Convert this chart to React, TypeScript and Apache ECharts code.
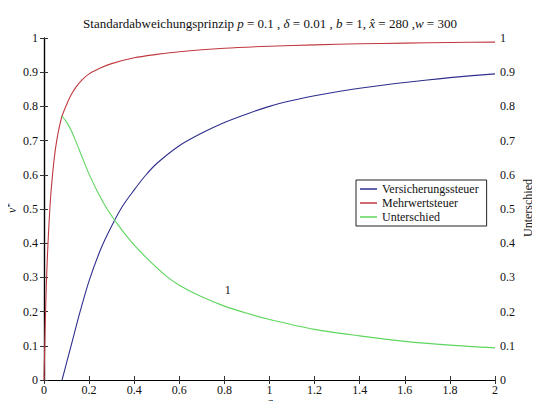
import React, { useEffect, useRef } from "react";
import * as echarts from "echarts";

const blueA = [0.08, 0.1, 0.12, 0.16, 0.2, 0.25, 0.3, 0.35, 0.4, 0.45, 0.5, 0.6, 0.7, 0.8, 0.9, 1.0, 1.1, 1.2, 1.3, 1.4, 1.5, 1.6, 1.7, 1.8, 1.9, 2.0];
const blueV = [0, 0.05, 0.1, 0.2, 0.29, 0.38, 0.45, 0.51, 0.556, 0.598, 0.633, 0.685, 0.722, 0.753, 0.778, 0.8, 0.817, 0.831, 0.843, 0.853, 0.862, 0.87, 0.877, 0.884, 0.89, 0.895];

const redA = [0, 0.005, 0.01, 0.015, 0.02, 0.025, 0.03, 0.04, 0.05, 0.06, 0.07, 0.08, 0.1, 0.12, 0.14, 0.17, 0.2, 0.25, 0.3, 0.4, 0.5, 0.6, 0.8, 1.0, 1.2, 1.4, 1.6, 1.8, 2.0];
const redV = [0, 0.15, 0.27, 0.36, 0.43, 0.49, 0.54, 0.615, 0.672, 0.714, 0.746, 0.772, 0.805, 0.833, 0.855, 0.878, 0.895, 0.912, 0.925, 0.942, 0.952, 0.96, 0.97, 0.976, 0.98, 0.983, 0.985, 0.987, 0.988];

const greenA = [0.08, 0.1, 0.12, 0.14, 0.17, 0.2, 0.24, 0.28, 0.33, 0.38, 0.45, 0.54, 0.6, 0.69, 0.8, 0.9, 1.0, 1.2, 1.4, 1.6, 1.8, 2.0];
const greenV = [0.772, 0.754, 0.73, 0.7, 0.65, 0.602, 0.547, 0.5, 0.452, 0.41, 0.36, 0.305, 0.277, 0.246, 0.216, 0.195, 0.177, 0.148, 0.129, 0.113, 0.102, 0.094];

const seriesNames = ["Versicherungssteuer", "Mehrwertsteuer", "Unterschied"];
const annotation = { a: 0.815, v: 0.264, text: "1" };
const xName = "a";
const yName = "v";
const y2Name = "Unterschied";

const FONT = "Liberation Serif";

const zip = (xs: number[], ys: number[]) => xs.map((x, i) => [x, ys[i]]);

export default function App() {
  const ref = useRef<HTMLDivElement>(null);
  useEffect(() => {
    const chart = echarts.init(ref.current!, null, { renderer: "svg" });
    const axisCommon = {
      axisLine: { show: true, lineStyle: { color: "#000", width: 1.2 } },
      axisTick: { show: true, inside: true, length: 4, lineStyle: { color: "#333" } },
      splitLine: { show: false },
      axisLabel: { color: "#111", fontFamily: FONT, fontSize: 12 },
    };
    const lineCommon = { type: "line", showSymbol: false, smooth: 0.3 };
    const nameStyle = { fill: "#111", fontFamily: FONT, fontSize: 12, align: "center", verticalAlign: "middle" };
    chart.setOption({
      animation: false,
      backgroundColor: "#fff",
      title: {
        text: "Standardabweichungsprinzip {i|p} = 0.1 , {i|δ} = 0.01 , {i|b} = 1, {i|x̂} = 280 ,{i|w} = 300",
        left: "center",
        top: 12,
        textStyle: {
          fontFamily: FONT,
          fontSize: 13,
          fontWeight: "normal",
          color: "#111",
          rich: { i: { fontStyle: "italic", fontFamily: FONT, fontSize: 13, color: "#111" } },
        },
      },
      grid: { left: 44, right: 45, top: 38, bottom: 29, outerBoundsMode: "none" },
      legend: {
        orient: "vertical",
        left: 356,
        top: 180,
        data: seriesNames,
        icon: "rect",
        itemWidth: 17,
        itemHeight: 1.5,
        itemGap: 2,
        padding: [3, 8, 3, 4],
        borderColor: "#222",
        borderWidth: 1,
        borderRadius: 0,
        backgroundColor: "#fff",
        textStyle: { fontFamily: FONT, fontSize: 12, color: "#111" },
      },
      graphic: [
        { type: "text", x: 270, y: 401, silent: true, style: { ...nameStyle, text: xName, fontStyle: "italic", fontSize: 13 } },
        { type: "text", x: 270, y: 7, silent: true, style: { ...nameStyle, text: xName, fontStyle: "italic", verticalAlign: "bottom" } },
        {
          type: "text",
          x: 12,
          y: 208,
          rotation: Math.PI / 2,
          silent: true,
          style: {
            ...nameStyle,
            text: `{i|${yName}}{s|*}`,
            rich: {
              i: { fontStyle: "italic", fontFamily: FONT, fontSize: 12, fill: "#111" },
              s: { fontFamily: FONT, fontSize: 9, fill: "#111", verticalAlign: "top", padding: [0, 0, 5, 0] },
            },
          },
        },
        { type: "text", x: 528, y: 208, rotation: Math.PI / 2, silent: true, style: { ...nameStyle, text: y2Name } },
      ],
      xAxis: [
        {
          ...axisCommon,
          type: "value",
          min: 0,
          max: 2,
          interval: 0.2,
          position: "bottom",
          axisLabel: { ...axisCommon.axisLabel, margin: 4 },
        },
        {
          ...axisCommon,
          type: "value",
          min: 0,
          max: 2,
          interval: 0.2,
          position: "top",
          axisLabel: { show: false },
        },
      ],
      yAxis: [
        {
          ...axisCommon,
          type: "value",
          min: 0,
          max: 1,
          interval: 0.1,
          axisLabel: { ...axisCommon.axisLabel, margin: 6 },
        },
        {
          ...axisCommon,
          type: "value",
          min: 0,
          max: 1,
          interval: 0.1,
          position: "right",
          axisLabel: { ...axisCommon.axisLabel, margin: 5 },
        },
      ],
      series: [
        {
          ...lineCommon,
          name: seriesNames[0],
          data: zip(blueA, blueV),
          lineStyle: { color: "#2e2e8f", width: 1.1 },
          itemStyle: { color: "#2e2e8f" },
        },
        {
          ...lineCommon,
          name: seriesNames[1],
          data: zip(redA, redV),
          lineStyle: { color: "#c0393f", width: 1.1 },
          itemStyle: { color: "#c0393f" },
        },
        {
          ...lineCommon,
          name: seriesNames[2],
          yAxisIndex: 1,
          data: zip(greenA, greenV),
          lineStyle: { color: "#5ed65e", width: 1.1 },
          itemStyle: { color: "#5ed65e" },
          markPoint: {
            symbol: "circle",
            symbolSize: 0,
            silent: true,
            label: {
              show: true,
              position: "inside",
              formatter: annotation.text,
              fontFamily: FONT,
              fontSize: 12,
              color: "#111",
            },
            data: [{ coord: [annotation.a, annotation.v] }],
          },
        },
      ],
    });
    return () => chart.dispose();
  }, []);
  return <div ref={ref} style={{ width: 540, height: 409, margin: -8 }} />;
}
